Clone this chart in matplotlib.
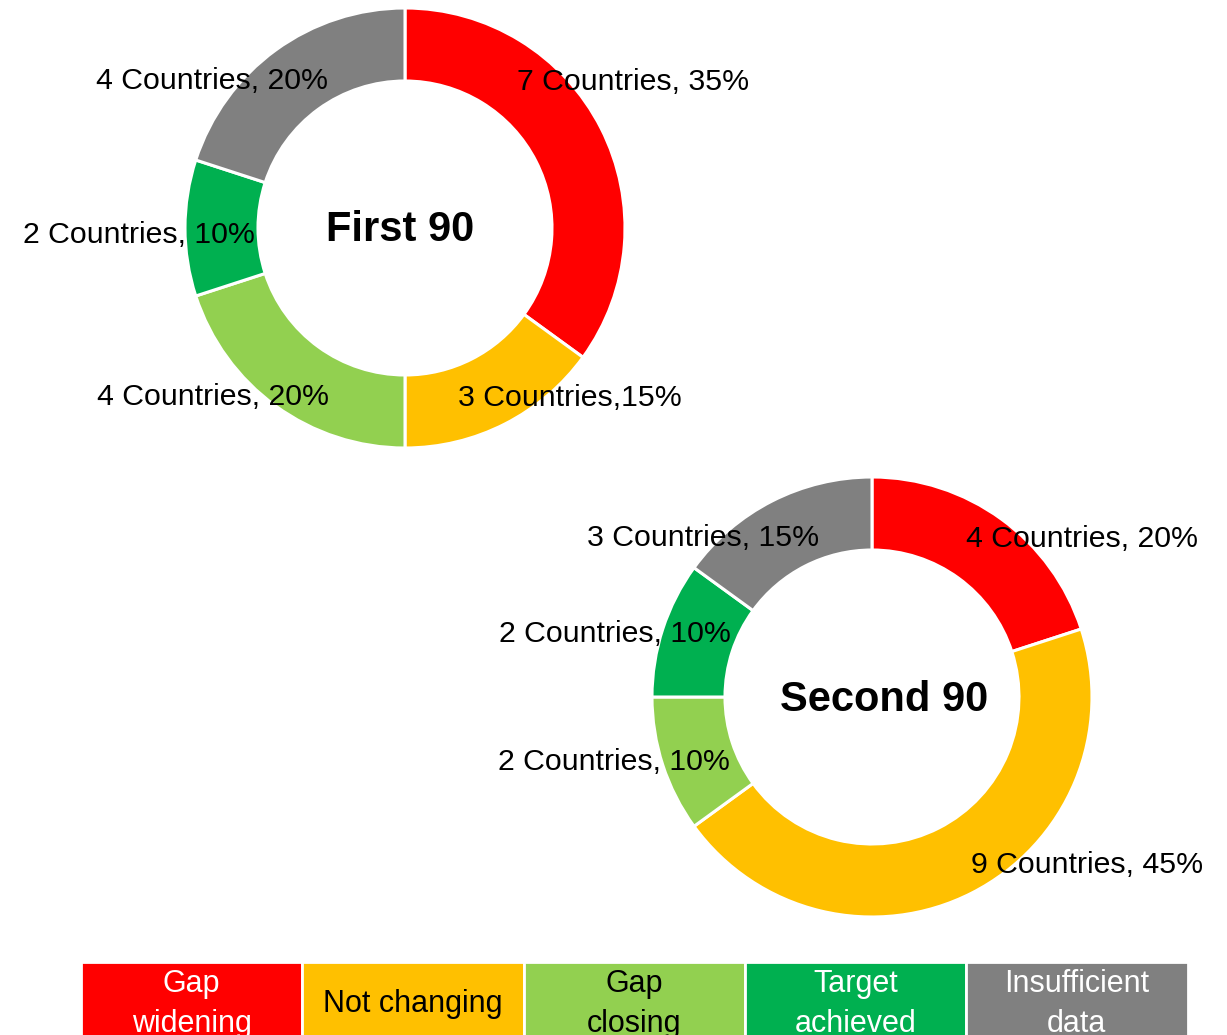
import matplotlib
matplotlib.use('Agg')
import matplotlib.pyplot as plt
from matplotlib.patches import Rectangle

plt.rcParams['font.family'] = ['Liberation Sans', 'DejaVu Sans']

# data
categories = ['Gap widening', 'Not changing', 'Gap closing', 'Target achieved', 'Insufficient data']
colors = ['#FF0000', '#FFC000', '#92D050', '#00B050', '#808080']
first_counts = [7, 3, 4, 2, 4]
second_counts = [4, 9, 2, 2, 3]
first_labels = ['7 Countries, 35%', '3 Countries,15%', '4 Countries, 20%', '2 Countries, 10%', '4 Countries, 20%']
second_labels = ['4 Countries, 20%', '9 Countries, 45%', '2 Countries, 10%', '2 Countries, 10%', '3 Countries, 15%']
legend_text = ['Gap\nwidening', 'Not changing', 'Gap\nclosing', 'Target\nachieved', 'Insufficient\ndata']
legend_text_colors = ['white', 'black', 'black', 'white', 'white']

W, H = 1227, 1035
fig = plt.figure(figsize=(W / 100, H / 100), dpi=100)
ax = fig.add_axes([0, 0, 1, 1])

R = 220
RING = 73


def donut(counts, labels, center, offsets, title, title_off):
    cx, cy = center
    ax.pie(counts, colors=colors, center=center, radius=R, startangle=90,
           counterclock=False,
           wedgeprops=dict(width=RING, edgecolor='white', linewidth=2.2))
    for lab, (dx, dy) in zip(labels, offsets):
        ax.text(cx + dx, cy + dy, lab, ha='center', va='center', fontsize=21.8)
    ax.text(cx + title_off[0], cy + title_off[1], title, ha='center', va='center',
            fontsize=30, fontweight='bold')


donut(first_counts, first_labels, (405, 807),
      [(228, 146), (165, -170), (-192, -169), (-266, -7), (-193, 147)],
      'First 90', (-5, -2))
donut(second_counts, second_labels, (872, 338),
      [(210, 158), (215, -168), (-258, -65), (-257, 63), (-169, 159)],
      'Second 90', (12, -3))

# legend boxes along the bottom
x0, bw = 81, 221.3
for i, (txt, c, tc) in enumerate(zip(legend_text, colors, legend_text_colors)):
    ax.add_patch(Rectangle((x0 + i * bw, -10), bw, 83, facecolor=c,
                           edgecolor='white', linewidth=2))
    ax.text(x0 + i * bw + bw / 2, 31, txt, ha='center', va='center',
            fontsize=22, color=tc, linespacing=1.45)

ax.set_xlim(0, W)
ax.set_ylim(0, H)
ax.set_aspect('equal')
ax.axis('off')

fig.savefig('out.png', dpi=100)
